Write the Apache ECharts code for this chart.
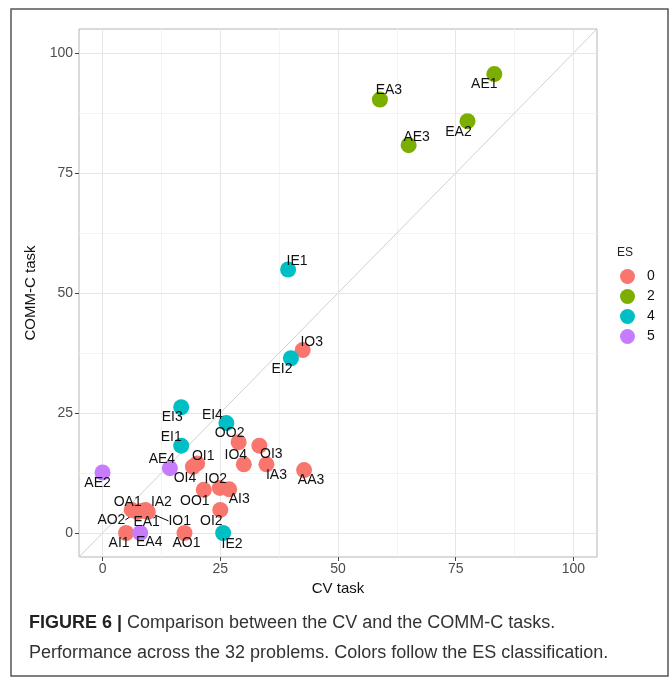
<!DOCTYPE HTML>
<html><head>
<meta charset="utf-8">
<title>CV vs COMM-C</title>
<script src="https://cdn.jsdelivr.net/npm/echarts@6/dist/echarts.min.js"></script>
<style>
html, body { margin:0; padding:0; background:#fff; }
#main { width:672px; height:679px; }
</style>
</head>
<body>
<div id="main"></div>
<script type="text/javascript">
// data
var problems = ['AE1','EA3','EA2','AE3',
                'IE1','EI2','EI3','EI4','EI1','IE2',
                'AE2','AE4','EA4',
                'IO3','OO2','OI3','IO4','IA3','AA3','OI1','OI4','IO2','AI3','OO1','OI2',
                'OA1','AO2','EA1','IA2','IO1','AI1','AO1'];
var cvTask   = [83.2, 58.9, 77.5, 65.0,
                39.4, 40.0, 16.7, 26.3, 16.7, 25.6,
                0.0, 14.3, 8.0,
                42.5, 28.9, 33.3, 30.0, 34.8, 42.8, 20.1, 19.2, 24.9, 26.9, 21.5, 25.0,
                6.2, 7.4, 8.3, 9.1, 9.6, 5.0, 17.4];
var commTask = [95.6, 90.3, 85.8, 80.8,
                54.9, 36.4, 26.2, 22.9, 18.2, 0.0,
                12.6, 13.5, 0.0,
                38.1, 18.9, 18.2, 14.3, 14.3, 13.1, 14.5, 13.8, 9.4, 9.1, 9.0, 4.8,
                4.8, 4.4, 4.6, 4.8, 4.4, 0.0, 0.0];
var esClass  = ['2','2','2','2',
                '4','4','4','4','4','4',
                '5','5','5',
                '0','0','0','0','0','0','0','0','0','0','0','0',
                '0','0','0','0','0','0','0'];
var esLevels = ['0','2','4','5'];
var majorTicks = [0, 25, 50, 75, 100];
var minorTicks = [12.5, 37.5, 62.5, 87.5];
var axisLimits = [-5, 105];

// look
var esColors = ['#F8766D','#7CAE00','#00BFC4','#C77CFF'];
// where each text label sits relative to its dot (px), like ggrepel put them
var labelShift = {
  AE1:[-10,10], EA3:[9,-9], EA2:[-9,11], AE3:[8,-8],
  IE1:[9,-8], EI2:[-9,11], EI3:[-9,10], EI4:[-14,-8], EI1:[-10,-8], IE2:[9,11],
  AE2:[-5,11], AE4:[-8,-9], EA4:[9,9],
  IO3:[9,-8], OO2:[-9,-9], OI3:[12,9], IO4:[-8,-9], IA3:[10,11], AA3:[7,10],
  OI1:[6,-7], OI4:[-8,11], IO2:[-4,-9], AI3:[10,10], OO1:[-9,11], OI2:[-9,11],
  OA1:[-4,-8], AO2:[-26,8], EA1:[5,11], IA2:[16,-8], IO1:[32,9], AI1:[-7,10], AO1:[2,10]
};
var withSegment = ['AO2','IO1'];

var myChart = echarts.init(document.getElementById('main'));

var series = [{
  type: 'line',
  silent: true,
  symbol: 'none',
  z: 1,
  data: [[axisLimits[0], axisLimits[0]], [axisLimits[1], axisLimits[1]]],
  lineStyle: { color: '#d0d0d0', width: 1 }
}];

esLevels.forEach(function (lv, k) {
  var pts = [];
  for (var i = 0; i < problems.length; i++) {
    if (esClass[i] !== lv) continue;
    var item = { value: [cvTask[i], commTask[i]], name: problems[i] };
    if (withSegment.indexOf(problems[i]) >= 0) {
      item.labelLine = { show: true, lineStyle: { color: '#000', width: 1 } };
    }
    pts.push(item);
  }
  series.push({
    name: lv,
    type: 'scatter',
    z: 3,
    symbolSize: 16,
    itemStyle: { color: esColors[k], opacity: 1 },
    label: {
      show: true,
      position: 'inside',
      formatter: '{b}',
      color: '#111',
      fontSize: 14,
      fontFamily: 'Liberation Sans'
    },
    labelLine: { show: false },
    labelLayout: function (p) {
      var s = labelShift[p.text] || [0, 0];
      return { dx: s[0], dy: s[1] };
    },
    emphasis: { disabled: true },
    data: pts
  });
});

var gridLine = function (c) { return { show: true, lineStyle: { color: c, width: 1 } }; };

option = {
  animation: false,
  textStyle: { fontFamily: 'Liberation Sans' },
  title: [{
    text: 'ES',
    left: 612, top: 242,
    textStyle: { fontSize: 12, fontWeight: 'normal', color: '#222', fontFamily: 'Liberation Sans' }
  }, {
    text: '{b|FIGURE 6 |} {r|Comparison between the CV and the COMM-C tasks.}\n{r|Performance across the 32 problems. Colors follow the ES classification.}',
    left: 24, top: 603,
    textStyle: {
      fontWeight: 'normal',
      rich: {
        b: { fontSize: 18, fontWeight: 'bold', color: '#222', fontFamily: 'Liberation Sans', lineHeight: 30 },
        r: { fontSize: 18, fontWeight: 'normal', color: '#333', fontFamily: 'Liberation Sans', lineHeight: 30 }
      }
    }
  }],
  legend: {
    data: esLevels,
    orient: 'vertical',
    left: 615, top: 264,
    icon: 'circle',
    itemWidth: 15, itemHeight: 15, itemGap: 5,
    selectedMode: false,
    textStyle: { fontSize: 14, color: '#111', padding: [0, 0, 0, 7] }
  },
  graphic: [{
    type: 'rect',
    shape: { x: 11, y: 9, width: 657, height: 667 },
    style: { fill: 'none', stroke: '#555', lineWidth: 1.5 },
    silent: true, z: -1
  }],
  grid: {
    left: 79, top: 29, width: 518, height: 528,
    show: true, borderColor: '#b5b5b5', borderWidth: 1, backgroundColor: '#fff'
  },
  xAxis: [{
    type: 'value', min: axisLimits[0], max: axisLimits[1],
    name: 'CV task', nameLocation: 'middle', nameGap: 22,
    nameTextStyle: { fontSize: 15, color: '#111' },
    axisLine: { show: false, onZero: false },
    axisTick: { show: true, length: 4, customValues: majorTicks, lineStyle: { color: '#444' } },
    axisLabel: { customValues: majorTicks, fontSize: 14, color: '#4d4d4d', margin: 5 },
    splitLine: gridLine('#e6e6e6'),
    z: 2
  }, {
    type: 'value', min: axisLimits[0], max: axisLimits[1], position: 'bottom',
    axisLine: { show: false, onZero: false }, axisLabel: { show: false },
    axisTick: { show: false, customValues: minorTicks },
    splitLine: gridLine('#f3f3f3')
  }],
  yAxis: [{
    type: 'value', min: axisLimits[0], max: axisLimits[1],
    name: 'COMM-C task', nameLocation: 'middle', nameGap: 40,
    nameTextStyle: { fontSize: 15, color: '#111' },
    axisLine: { show: false, onZero: false },
    axisTick: { show: true, length: 4, customValues: majorTicks, lineStyle: { color: '#444' } },
    axisLabel: { customValues: majorTicks, fontSize: 14, color: '#4d4d4d', margin: 6 },
    splitLine: gridLine('#e6e6e6'),
    z: 2
  }, {
    type: 'value', min: axisLimits[0], max: axisLimits[1], position: 'left',
    axisLine: { show: false, onZero: false }, axisLabel: { show: false },
    axisTick: { show: false, customValues: minorTicks },
    splitLine: gridLine('#f3f3f3')
  }],
  series: series
};

myChart.setOption(option);
</script>
</body>
</html>
